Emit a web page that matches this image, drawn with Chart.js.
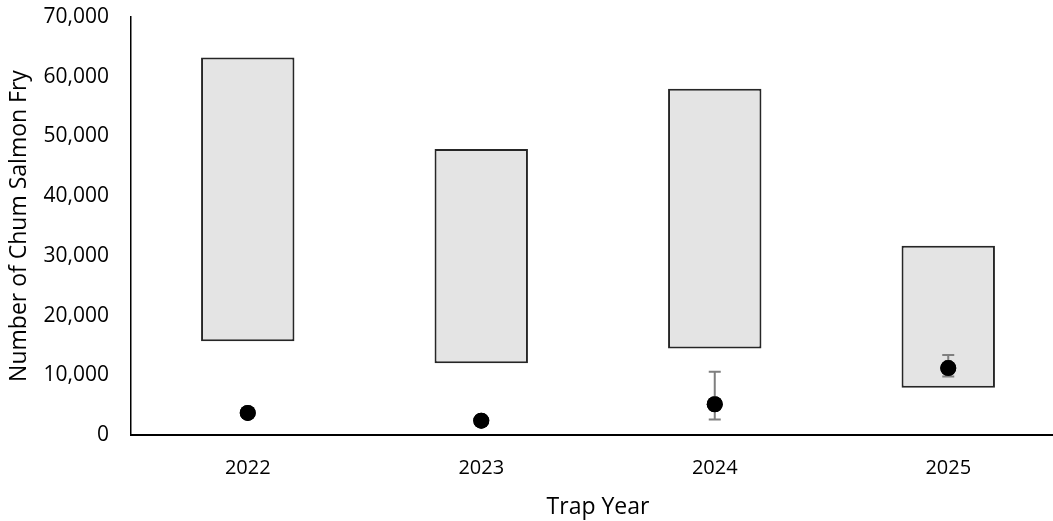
<!DOCTYPE html>
<html>
<head>
<meta charset="utf-8">
<script src="https://cdn.jsdelivr.net/npm/chart.js@4/dist/chart.umd.min.js"></script>
<style>
  html, body { margin: 0; padding: 0; background: #fff; width: 1053px; height: 521px; overflow: hidden; }
  #wrap { width: 1073px; height: 521px; }
</style>
</head>
<body>
<div id="wrap"><canvas id="c" width="1073" height="521"></canvas></div>
<script>
// Trap years
const years = ['2022', '2023', '2024', '2025'];
// Expected range of chum salmon fry (lower and upper bounds)
const rangeLow  = [15700, 12000, 14500, 7900];
const rangeHigh = [63200, 47900, 58000, 31700];
// Trap estimate and its confidence limits
const estimate = [3700, 2400, 5150, 11200];
const estLow   = [null, null, 2600, 9800];
const estHigh  = [null, null, 10600, 13400];
// Y axis ticks
const yTicks = [0, 10000, 20000, 30000, 40000, 50000, 60000, 70000];

const FONT = "'Open Sans', 'DejaVu Sans', sans-serif";

// Draws vertical error bars with caps for the estimate series
const errorBars = {
  id: 'errorBars',
  afterDatasetsDraw(chart) {
    const ctx = chart.ctx;
    const x = chart.scales.x, y = chart.scales.y;
    const meta = chart.getDatasetMeta(1);
    ctx.save();
    ctx.strokeStyle = '#7f7f7f';
    ctx.lineWidth = 2;
    estimate.forEach((v, i) => {
      if (estLow[i] == null || estHigh[i] == null) return;
      const px = x.getPixelForValue(i);
      const yl = y.getPixelForValue(estLow[i]);
      const yh = y.getPixelForValue(estHigh[i]);
      ctx.beginPath();
      ctx.moveTo(px, yl); ctx.lineTo(px, yh);
      ctx.moveTo(px - 6, yl); ctx.lineTo(px + 6, yl);
      ctx.moveTo(px - 6, yh); ctx.lineTo(px + 6, yh);
      ctx.stroke();
    });
    ctx.restore();
    // redraw points on top of the bars
    meta.data.forEach(pt => pt.draw(ctx, chart.chartArea));
  }
};

new Chart(document.getElementById('c'), {
  data: {
    labels: years,
    datasets: [
      {
        type: 'bar',
        label: 'Expected range',
        data: rangeLow.map((lo, i) => [lo, rangeHigh[i]]),
        backgroundColor: '#e4e4e4',
        borderColor: '#262626',
        borderWidth: 2,
        borderSkipped: false,
        barPercentage: 0.4,
        categoryPercentage: 1.0,
        order: 2
      },
      {
        type: 'line',
        label: 'Estimate',
        data: estimate,
        showLine: false,
        pointRadius: 8,
        pointHoverRadius: 8,
        pointBackgroundColor: '#000',
        pointBorderColor: '#000',
        pointBorderWidth: 0,
        order: 1
      }
    ]
  },
  options: {
    responsive: false,
    animation: false,
    devicePixelRatio: 1,
    layout: { padding: { top: 17, left: 0, right: 0, bottom: 0 } },
    plugins: { legend: { display: false }, tooltip: { enabled: false } },
    scales: {
      x: {
        grid: { display: false, drawTicks: false },
        border: { display: true, color: '#000', width: 2 },
        ticks: { color: '#000', font: { family: FONT, size: 20 }, padding: 21 },
        title: {
          display: true, text: 'Trap Year', color: '#000',
          font: { family: FONT, size: 23 }, padding: { top: 11, bottom: 0 }
        },
        afterFit(s) { s.height = 86; s.paddingLeft = 0; s.paddingRight = 0; }
      },
      y: {
        min: 0, max: 70000,
        afterBuildTicks(s) { s.ticks = yTicks.map(v => ({ value: v })); },
        grid: { display: false, drawTicks: false },
        border: { display: true, color: '#000', width: 1.5 },
        ticks: {
          color: '#000', font: { family: FONT, size: 21 }, padding: 22,
          callback: v => v.toLocaleString('en-US')
        },
        title: {
          display: true, text: 'Number of Chum Salmon Fry', color: '#000',
          font: { family: FONT, size: 23 }, padding: { top: 6, bottom: 0 }
        },
        afterFit(s) { s.width = 131; s.paddingTop = 0; s.paddingBottom = 0; }
      }
    }
  },
  plugins: [errorBars]
});
</script>
</body>
</html>
